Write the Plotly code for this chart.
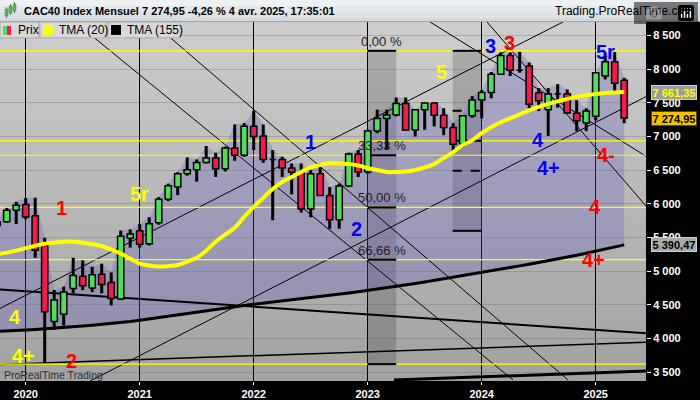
import plotly.graph_objects as go

# ---------------- data ----------------
months = ["2019-10", "2019-11", "2019-12",
          "2020-01", "2020-02", "2020-03", "2020-04", "2020-05", "2020-06", "2020-07", "2020-08", "2020-09", "2020-10", "2020-11", "2020-12",
          "2021-01", "2021-02", "2021-03", "2021-04", "2021-05", "2021-06", "2021-07", "2021-08", "2021-09", "2021-10", "2021-11", "2021-12",
          "2022-01", "2022-02", "2022-03", "2022-04", "2022-05", "2022-06", "2022-07", "2022-08", "2022-09", "2022-10", "2022-11", "2022-12",
          "2023-01", "2023-02", "2023-03", "2023-04", "2023-05", "2023-06", "2023-07", "2023-08", "2023-09", "2023-10", "2023-11", "2023-12",
          "2024-01", "2024-02", "2024-03", "2024-04", "2024-05", "2024-06", "2024-07", "2024-08", "2024-09", "2024-10", "2024-11", "2024-12",
          "2025-01", "2025-02", "2025-03", "2025-04"]
opens = [5677, 5735, 5905,
         5990, 5822, 5380, 4250, 4360, 4742, 4924, 4750, 4954, 4831, 4584, 5490,
         5600, 5408, 5720, 6067, 6250, 6447, 6508, 6613, 6680, 6520, 6830, 6721,
         7153, 7010, 6659, 6660, 6534, 6469, 5923, 6449, 6125, 5763, 6267, 6739,
         6474, 7082, 7267, 7322, 7492, 7099, 7400, 7497, 7317, 7136, 6886, 7311,
         7543, 7656, 7927, 8206, 7985, 8050, 7650, 7400, 7631, 7636, 7350, 7200,
         7300, 7900, 8112, 7838]
highs = [5740, 5940, 6030,
         6085, 6090, 5495, 4720, 4770, 5198, 5160, 5065, 5110, 4980, 5603, 5620,
         5700, 5800, 6100, 6300, 6470, 6690, 6660, 6860, 6760, 6850, 7180, 7200,
         7385, 7180, 6800, 6700, 6600, 6600, 6500, 6600, 6250, 6300, 6760, 6800,
         7100, 7400, 7400, 7580, 7580, 7400, 7500, 7500, 7420, 7200, 7320, 7600,
         7690, 7960, 8250, 8250, 8259, 8100, 7720, 7720, 7780, 7700, 7540, 7420,
         7950, 8200, 8257, 7873]
lows = [5450, 5720, 5700,
        5770, 5200, 3632, 4130, 4190, 4670, 4717, 4690, 4670, 4490, 4569, 5350,
        5350, 5380, 5690, 6040, 6130, 6420, 6330, 6600, 6400, 6480, 6640, 6700,
        6800, 6610, 5756, 6400, 6140, 5870, 5800, 6120, 5630, 5630, 6250, 6400,
        6450, 7050, 6800, 7300, 7100, 7000, 7100, 7150, 7020, 6790, 6840, 7280,
        7270, 7570, 7920, 7900, 7950, 7420, 7380, 7010, 7430, 7340, 7080, 7080,
        7240, 7850, 7660, 7198]
closes = [5730, 5905, 5978,
          5806, 5309, 4396, 4572, 4690, 4936, 4784, 4947, 4803, 4594, 5518, 5551,
          5399, 5703, 6067, 6269, 6447, 6508, 6613, 6680, 6520, 6830, 6721, 7153,
          6999, 6659, 6660, 6534, 6469, 5923, 6449, 6125, 5763, 6267, 6739, 6474,
          7082, 7267, 7322, 7492, 7099, 7400, 7497, 7317, 7136, 6886, 7311, 7543,
          7656, 7927, 8206, 7985, 7993, 7479, 7531, 7631, 7636, 7350, 7235, 7381,
          7950, 8112, 7791, 7274.95]
tma20 = [5253, 5275, 5304,
         5341, 5378, 5408, 5423, 5437, 5437, 5423, 5400, 5371, 5319, 5260, 5186,
         5112, 5083, 5068, 5075, 5090, 5142, 5200, 5304, 5437, 5541, 5645, 5807,
         5955, 6088, 6221, 6325, 6399, 6473, 6547, 6576, 6606, 6599, 6591, 6569,
         6532, 6502, 6473, 6473, 6480, 6502, 6540, 6591, 6680, 6769, 6872, 6946,
         7050, 7138, 7212, 7271, 7331, 7390, 7442, 7486, 7523, 7560, 7590, 7612,
         7634, 7649, 7656, 7661.35]
tma155 = [4106, 4110, 4118,
          4126, 4134, 4142, 4150, 4160, 4172, 4184, 4196, 4208, 4222, 4236, 4252,
          4270, 4290, 4312, 4336, 4358, 4378, 4398, 4418, 4436, 4454, 4472, 4490,
          4506, 4522, 4538, 4554, 4570, 4586, 4602, 4620, 4638, 4656, 4675, 4694,
          4713, 4732, 4752, 4772, 4793, 4815, 4838, 4861, 4885, 4909, 4933, 4957,
          4981, 5005, 5029, 5053, 5078, 5103, 5128, 5153, 5180, 5208, 5237, 5266,
          5296, 5327, 5358, 5390.47]
year_ticks = ["2020", "2021", "2022", "2023", "2024", "2025"]
price_ticks = [3500, 4000, 4500, 5000, 5500, 6000, 6500, 7000, 7500, 8000, 8500]

# Fibonacci retracements (price levels)
fib1_hi, fib1_lo = 8274, 3618
fib2_hi, fib2_lo = 8274, 5599
fib_pcts = [0.0, 1 / 3, 0.5, 2 / 3, 1.0]
fib_labels = ["0,00 %", "33,33 %", "50,00 %", "66,66 %"]

# drawn trend lines: (month0, price0, month1, price1, width)
trendlines = [
    (6.78, 3367, 65.3, 7594, 1),
    (-2.7, 4446, 56.56, 8703, 1),
    (5.19, 8703, 51.3, 3382, 1),
    (13.3, 8703, 57.09, 3382, 1),
    (42.56, 8703, 65.3, 6707, 1),
    (48.56, 8703, 65.3, 5968, 1),
    (-2.7, 4727, 65.3, 4076, 2),
    (-2.7, 3614, 65.3, 3943, 1.5),
    (38.77, 3382, 65.3, 3515, 3),
]

# Elliott wave labels: (text, month, price, colour)
waves = [
    ("1", 3.82, 5939, "#ff0000"), ("4", -1.13, 4313, "#ffff00"), ("4+", -0.18, 3736, "#ffff00"),
    ("2", 4.77, 3663, "#ff0000"), ("5r", 12.03, 6146, "#ffff00"), ("1", 29.93, 6914, "#0000ff"),
    ("2", 34.87, 5628, "#0000ff"), ("5", 43.82, 7964, "#ffff00"), ("3", 48.88, 8348, "#0000ff"),
    ("3", 50.88, 8392, "#ff0000"), ("4", 53.93, 6944, "#0000ff"), ("4+", 54.98, 6530, "#0000ff"),
    ("5r", 60.98, 8259, "#0000ff"), ("4-", 61.08, 6722, "#ff0000"), ("4", 59.92, 5953, "#ff0000"),
    ("4+", 59.82, 5170, "#ff0000"),
]

# ---------------- geometry helpers ----------------
W, H = 700, 400
ML, MR, MT, MB = 0, 54, 22, 17
PW, PH = W - ML - MR, H - MT - MB
XR = [-2.705, 65.295]
YR = [3367.0, 8702.6]


def px(x):
    return (x - ML) / PW


def py(y):
    return (H - MB - y) / PH


ms = [(int(s[:4]) - 2020) * 12 + int(s[5:]) - 1 for s in months]
FONT = "Liberation Sans, Arial, sans-serif"
GREEN, RED = "#4ddf5a", "#f21c4c"

fig = go.Figure()

# purple zone between highs and TMA(155)
fig.add_trace(go.Scatter(x=ms + ms[::-1], y=highs + tma155[::-1], fill="toself",
                         fillcolor="rgba(95,85,185,0.28)", line=dict(width=0),
                         mode="lines", hoverinfo="skip", showlegend=False))

# trend lines
for (m0, v0, m1, v1, w) in trendlines:
    fig.add_trace(go.Scatter(x=[m0, m1], y=[v0, v1], mode="lines",
                             line=dict(color="black", width=w), showlegend=False, hoverinfo="skip"))

# yellow horizontal fib extension lines
ylev = [fib1_hi - p * (fib1_hi - fib1_lo) for p in fib_pcts] + [fib2_hi - 0.5 * (fib2_hi - fib2_lo)]
for lv in ylev:
    fig.add_trace(go.Scatter(x=[XR[0], XR[1]], y=[lv, lv], mode="lines",
                             line=dict(color="#ffff00", width=1.2), showlegend=False, hoverinfo="skip"))

# fib box lines
b1x = (36, 39)
b2x = (44.95, 48)
for i, p in enumerate(fib_pcts):
    lv = fib1_hi - p * (fib1_hi - fib1_lo)
    fig.add_trace(go.Scatter(x=list(b1x), y=[lv, lv], mode="lines",
                             line=dict(color="black", width=2), showlegend=False, hoverinfo="skip"))
for p, dash in zip(fib_pcts, ["solid", "dash", "solid", "dash", "solid"]):
    lv = fib2_hi - p * (fib2_hi - fib2_lo)
    fig.add_trace(go.Scatter(x=list(b2x), y=[lv, lv], mode="lines",
                             line=dict(color="black", width=2, dash=dash), showlegend=False, hoverinfo="skip"))

# candle wicks
wx, wy = [], []
for m, hi, lo in zip(ms, highs, lows):
    wx += [m, m, None]
    wy += [lo, hi, None]
fig.add_trace(go.Scatter(x=wx, y=wy, mode="lines", line=dict(color="black", width=3),
                         showlegend=False, hoverinfo="skip"))

# candle bodies
hw = 0.33
for up, col in [(True, GREEN), (False, RED)]:
    bx, by = [], []
    for m, o, c in zip(ms, opens, closes):
        if (c >= o) == up:
            bx += [m - hw, m + hw, m + hw, m - hw, m - hw, None]
            by += [o, o, c, c, o, None]
    fig.add_trace(go.Scatter(x=bx, y=by, mode="lines", fill="toself", fillcolor=col,
                             line=dict(color="black", width=1.5), showlegend=False, hoverinfo="skip"))

# moving averages
fig.add_trace(go.Scatter(x=ms, y=tma20, mode="lines", line=dict(color="#ffff00", width=4, shape="spline"),
                         showlegend=False, hoverinfo="skip"))
fig.add_trace(go.Scatter(x=ms, y=tma155, mode="lines", line=dict(color="black", width=3),
                         showlegend=False, hoverinfo="skip"))

shapes = []
# background gradient
N = 40
for i in range(N):
    t = i / (N - 1)
    g = int(round(205 - t * (205 - 162)))
    shapes.append(dict(type="rect", xref="paper", yref="paper", x0=0, x1=1,
                       y0=1 - (i + 1) / N, y1=1 - i / N, layer="below",
                       fillcolor=f"rgb({g},{g},{g})", line=dict(width=0)))
# fib box shading
shapes.append(dict(type="rect", xref="x", yref="y", x0=b1x[0], x1=b1x[1], y0=fib1_lo, y1=fib1_hi,
                   layer="below", fillcolor="rgba(0,0,0,0.16)", line=dict(width=0)))
shapes.append(dict(type="rect", xref="x", yref="y", x0=b2x[0], x1=b2x[1], y0=fib2_lo, y1=fib2_hi,
                   layer="below", fillcolor="rgba(0,0,0,0.16)", line=dict(width=0)))

# header bar
bands = [(0, 6, "#eef1f4"), (6, 12, "#e3e8ec"), (12, 18, "#dbe1e6"), (18, 22, "#d2d9df")]
for a, b, c in bands:
    shapes.append(dict(type="rect", xref="paper", yref="paper", x0=0, x1=W / PW, y0=py(b), y1=py(a),
                       fillcolor=c, line=dict(width=0), layer="above"))
shapes.append(dict(type="line", xref="paper", yref="paper", x0=0, x1=W / PW, y0=py(21.5), y1=py(21.5),
                   line=dict(color="#9aa4ae", width=1), layer="above"))
# header icon
for (x0, y0, x1, y1, c) in [(5, 9, 8, 16, "#46c846"), (9, 6, 12, 13, "#46c846"), (13, 4, 16, 11, "#46c846")]:
    shapes.append(dict(type="line", xref="paper", yref="paper", x0=px(x0 + 1.5), x1=px(x0 + 1.5),
                       y0=py(y1 + 2), y1=py(y0 - 2), line=dict(color="#707070", width=1), layer="above"))
    shapes.append(dict(type="rect", xref="paper", yref="paper", x0=px(x0), x1=px(x1), y0=py(y1), y1=py(y0),
                       fillcolor=c, line=dict(color="#507050", width=0.5), layer="above"))

# legend boxes
for (x0, x1) in [(0, 39), (40, 107), (108, 181)]:
    shapes.append(dict(type="rect", xref="paper", yref="paper", x0=px(x0), x1=px(x1), y0=py(38), y1=py(22),
                       fillcolor="#d8d8d8", line=dict(color="#a9a9a9", width=1), layer="above"))
for (x0, x1, c) in [(3, 7, GREEN), (7, 11, RED), (43, 53, "#ffff00"), (111, 121, "black")]:
    y0, y1 = (26, 35) if x1 <= 11 else (25, 35)
    shapes.append(dict(type="rect", xref="paper", yref="paper", x0=px(x0), x1=px(x1), y0=py(y1), y1=py(y0),
                       fillcolor=c, line=dict(width=0), layer="above"))

ann = []
ann.append(dict(text="CAC40 Index Mensuel 7 274,95 -4,26 % 4 avr. 2025, 17:35:01", x=px(22), y=py(11),
                xref="paper", yref="paper", xanchor="left", yanchor="middle", showarrow=False,
                font=dict(family=FONT, size=11, color="black", weight="bold")))
ann.append(dict(text="Trading.ProRealTime.com", x=px(696), y=py(11), xref="paper", yref="paper",
                xanchor="right", yanchor="middle", showarrow=False,
                font=dict(family=FONT, size=12, color="black")))
for t, x in [("Prix", 16), ("TMA (20)", 57), ("TMA (155)", 125)]:
    ann.append(dict(text=t, x=px(x), y=py(30.5), xref="paper", yref="paper", xanchor="left",
                    yanchor="middle", showarrow=False, font=dict(family=FONT, size=12, color="black")))
ann.append(dict(text="ProRealTime Trading", x=px(2), y=py(377), xref="paper", yref="paper",
                xanchor="left", yanchor="middle", showarrow=False,
                font=dict(family=FONT, size=10.5, color="#303030")))
# fib labels
for lab, p in zip(fib_labels, fib_pcts):
    lv = fib1_hi - p * (fib1_hi - fib1_lo)
    ann.append(dict(text=lab, x=(b1x[0] + b1x[1]) / 2, y=lv, xref="x", yref="y", xanchor="center",
                    yanchor="bottom", showarrow=False, font=dict(family=FONT, size=13, color="#1e1e1e")))
# wave labels
for t, m, v, c in waves:
    ann.append(dict(text=t, x=m, y=v, xref="x", yref="y", showarrow=False, xanchor="center",
                    yanchor="middle", font=dict(family=FONT, size=20, color=c, weight="bold")))
# right-axis value boxes
vx = px(674)
for val, txt, bg, bc, fc in [(tma20[-1], "7 661,35", "#9c9c9c", "#d0d0d0", "#ffff00"),
                             (closes[-1], "7 274,95", "#f2c200", "#5a4800", "black"),
                             (tma155[-1], "5 390,47", "#a8a8a8", "#d0d0d0", "black")]:
    ann.append(dict(text=txt, x=vx, y=val, xref="paper", yref="y", xanchor="center", yanchor="middle",
                    showarrow=False, bgcolor=bg, bordercolor=bc, borderwidth=1, borderpad=0,
                    width=44, height=13, font=dict(family=FONT, size=11, color=fc, weight="bold")))


def fmt(v):
    return f"{v:,}".replace(",", " ")


fig.update_layout(
    width=W, height=H, margin=dict(l=ML, r=MR, t=MT, b=MB, pad=0),
    paper_bgcolor="black", plot_bgcolor="#b8b8b8",
    shapes=shapes, annotations=ann, showlegend=False,
    xaxis=dict(range=XR, tickvals=[(int(y) - 2020) * 12 for y in year_ticks], ticktext=year_ticks,
               showgrid=True, gridcolor="black", gridwidth=1, zeroline=False, showline=False,
               ticks="outside", ticklen=3, tickcolor="white",
               tickfont=dict(family=FONT, size=11, color="white", weight="bold"), fixedrange=True),
    yaxis=dict(range=YR, side="right", tickvals=price_ticks, ticktext=[fmt(v) for v in price_ticks],
               showgrid=True, gridcolor="rgba(100,100,100,0.30)", gridwidth=1, zeroline=False,
               showline=False, ticks="outside", ticklen=4, tickcolor="white",
               tickfont=dict(family=FONT, size=11, color="white", weight="bold"), fixedrange=True),
)

fig.write_html("out.html", post_script="document.body.style.margin='0';document.body.style.overflow='hidden';")
